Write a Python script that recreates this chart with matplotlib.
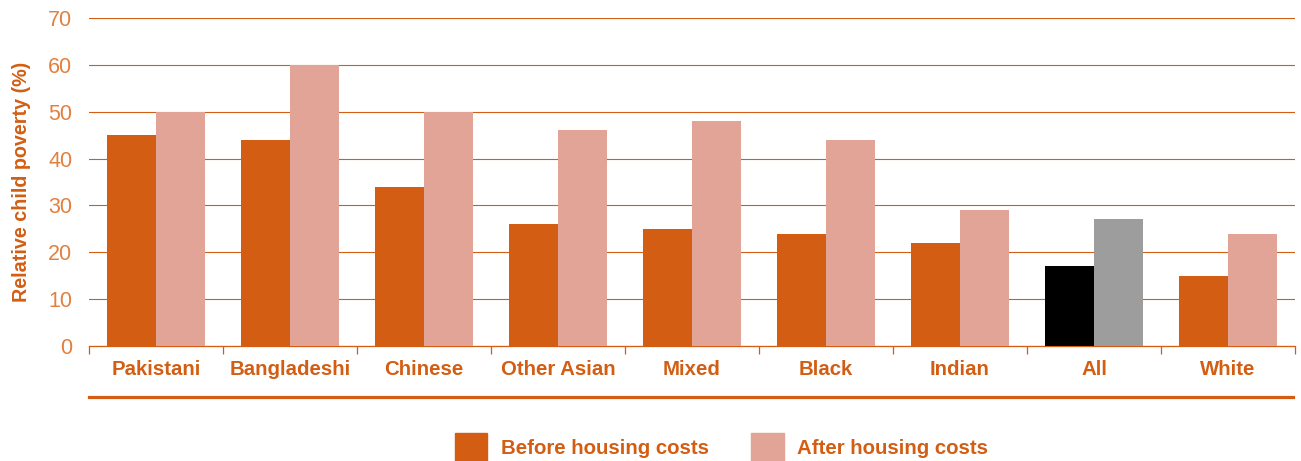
import matplotlib.pyplot as plt
from matplotlib.lines import Line2D
import numpy as np

plt.rcParams['font.family'] = ['Liberation Sans', 'DejaVu Sans']

groups = ['Pakistani', 'Bangladeshi', 'Chinese', 'Other Asian', 'Mixed',
          'Black', 'Indian', 'All', 'White']
before_hc = [45, 44, 34, 26, 25, 24, 22, 17, 15]
after_hc = [50, 60, 50, 46, 48, 44, 29, 27, 24]

orange = '#D35E13'
pink = '#E1A496'
tick_orange = '#E2803F'

before_colors = ['#000000' if g == 'All' else orange for g in groups]
after_colors = ['#9C9D9C' if g == 'All' else pink for g in groups]

fig = plt.figure(figsize=(13.01, 4.61), dpi=100)
ax = fig.add_axes([0.0684, 0.2495, 0.9270, 0.7115])

x = np.arange(len(groups))
w = 0.365
ax.bar(x - w / 2, before_hc, w, color=before_colors, zorder=3)
ax.bar(x + w / 2, after_hc, w, color=after_colors, zorder=3)

ax.set_xlim(-0.5, len(groups) - 0.5)
ax.set_ylim(0, 70)
ax.set_yticks(range(0, 71, 10))
ax.yaxis.grid(True, color=orange, linewidth=0.8, zorder=0)
ax.set_axisbelow(True)

for s in ['left', 'right', 'top']:
    ax.spines[s].set_visible(False)
ax.spines['bottom'].set_color(orange)
ax.spines['bottom'].set_linewidth(0.9)

ax.set_xticks(x)
ax.set_xticklabels(groups, fontweight='bold')
ax.set_xticks(np.arange(-0.5, len(groups), 1), minor=True)
ax.tick_params(axis='x', which='major', length=0, pad=10, labelsize=14.7,
               labelcolor=orange)
ax.tick_params(axis='x', which='minor', length=6, width=0.9, color=orange)
ax.tick_params(axis='y', length=0, pad=12, labelsize=15.5, labelcolor=tick_orange)

ax.set_ylabel('Relative child poverty (%)', fontsize=14.2, fontweight='bold',
              color=orange)
ax.yaxis.set_label_coords(-0.048, 0.5)

# thick rule under the category labels
fig.add_artist(Line2D([0.0684, 0.9939], [0.1388, 0.1388], color=orange,
                      linewidth=2.3, transform=fig.transFigure))

handles = [plt.Rectangle((0, 0), 1, 1, color=orange),
           plt.Rectangle((0, 0), 1, 1, color=pink)]
fig.legend(handles, ['Before housing costs', 'After housing costs'],
           loc='center', bbox_to_anchor=(0.5546, 0.03), ncol=2, frameon=False,
           prop={'size': 14.7, 'weight': 'bold'}, labelcolor=orange,
           handlelength=1.6, handleheight=1.7, handletextpad=0.65,
           columnspacing=2.1)

fig.savefig('out.png', dpi=100)
